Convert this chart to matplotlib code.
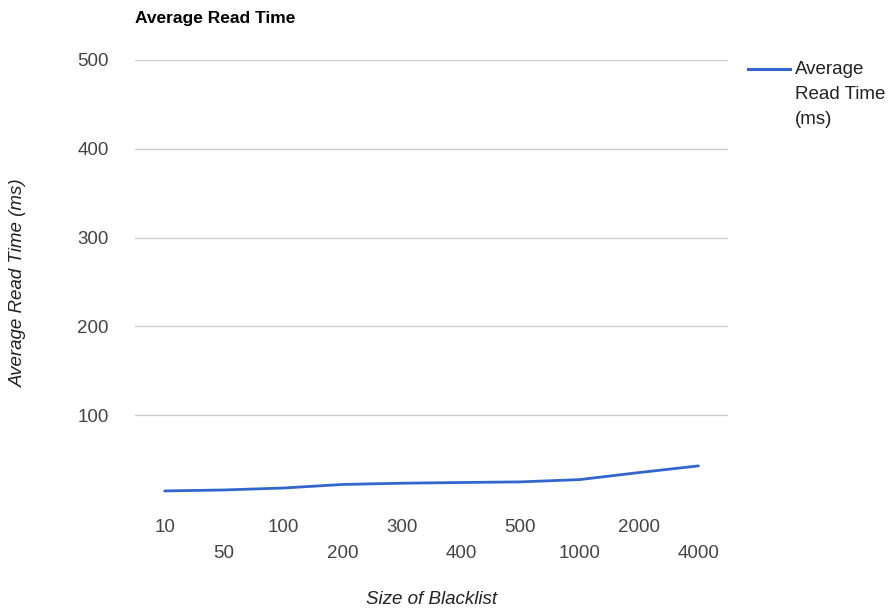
import matplotlib
matplotlib.use("Agg")
import matplotlib.pyplot as plt
from matplotlib.lines import Line2D

categories = ["10", "50", "100", "200", "300", "400", "500", "1000", "2000", "4000"]
read_time = [14.7, 15.8, 18.0, 22.0, 23.4, 24.2, 24.9, 27.5, 35.4, 42.9]
y_ticks = [100, 200, 300, 400, 500]
series_name = ["Average", "Read Time", "(ms)"]

plt.rcParams['font.family'] = ['Liberation Sans', 'DejaVu Sans']
FS = 13.5
LINE_COLOR = "#3366CC"

fig = plt.figure(figsize=(8.9, 6.14), dpi=100)
ax = fig.add_axes([135/890, 1-504/614, (728-135)/890, (504-60)/614])

x = list(range(len(categories)))
ax.plot(x, read_time, color=LINE_COLOR, lw=2, solid_capstyle='round')

ax.set_xlim(-0.5, len(categories) - 0.5)
ax.set_ylim(0, 500)
ax.set_yticks(y_ticks)
ax.set_yticklabels([str(v) for v in y_ticks], fontsize=FS, color="#444444")
ax.grid(axis='y', color="#cccccc", lw=1)
ax.set_axisbelow(True)
for s in ax.spines.values():
    s.set_visible(False)
ax.tick_params(axis='both', length=0)
ax.tick_params(axis='y', pad=19)

ax.set_xticks(x)
ax.set_xticklabels([])
for i, c in enumerate(categories):
    off = 527 if i % 2 == 0 else 553
    ax.annotate(c, xy=(i, 0), xycoords=('data', 'axes fraction'),
                xytext=(0, -(off - 504)), textcoords='offset pixels',
                ha='center', va='center', fontsize=FS, color="#444444")

fig.text(432/890, 1-600/614, "Size of Blacklist", ha='center', va='center',
         fontsize=FS, style='italic', color="#222222")
fig.text(18/890, 1-283/614, "Average Read Time (ms)", ha='center', va='center',
         fontsize=FS, style='italic', rotation=90, color="#222222")
fig.text(135/890, 1-18/614, "Average Read Time", ha='left', va='center',
         fontsize=12.5, fontweight='bold', color="#000000")

# legend drawn manually
fig.add_artist(Line2D([748/890, 790/890], [1-69/614, 1-69/614],
                      transform=fig.transFigure, color=LINE_COLOR, lw=2.2))
for k, line in enumerate(series_name):
    fig.text(795/890, 1-(69 + 25.5*k)/614, line, ha='left', va='center',
             fontsize=FS, color="#222222")

fig.savefig("out.png", dpi=100)
